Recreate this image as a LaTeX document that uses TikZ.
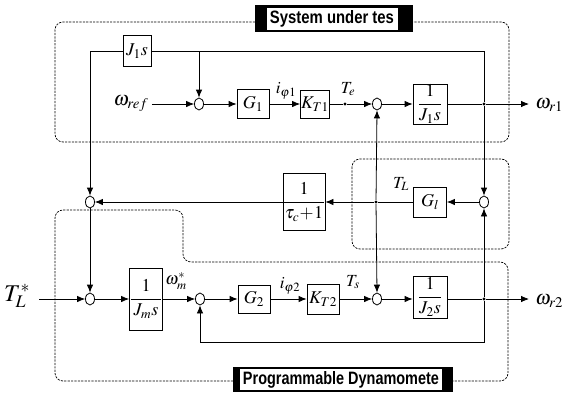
\documentclass[tikz,border=0pt]{standalone}
\usepackage{mathptmx}
\usepackage[no-math]{fontspec}
\newfontfamily\labfont{Liberation Sans}
\usetikzlibrary{arrows.meta,shapes.geometric}
\begin{document}
\begin{tikzpicture}[x=1pt,y=-1pt,
  line width=0.8pt,
  blk/.style={draw, rectangle, inner sep=0pt, font=\fontsize{18}{20}\selectfont},
  sumc/.style={draw, ellipse, minimum width=9pt, minimum height=12pt, inner sep=0pt},
  jdot/.style={circle, fill, inner sep=0pt, minimum size=3.4pt},
  arr/.style={-{Latex[length=8pt,width=6.5pt]}},
  dbox/.style={line width=0.7pt, dash pattern=on 2.2pt off 1.2pt, rounded corners=8pt},
  lbl/.style={inner sep=0pt, font=\fontsize{17}{19}\selectfont},
  big/.style={inner sep=0pt, font=\fontsize{20}{22}\selectfont},
  labtxt/.style={inner sep=0pt, font=\labfont\bfseries},
]
\useasboundingbox (0,0) rectangle (565,394);

% ---------- dashed group outlines ----------
\draw[dbox] (255,22) -- (55,22) -- (55,142) -- (509,142) -- (509,22) -- (413,22);
\draw[dbox] (352,159) rectangle (509,249);
\draw[dbox] (233,381) -- (55,381) -- (55,210) -- (183,210) -- (183,262) -- (508,262) -- (508,381) -- (453,381);

% ---------- group titles ----------
\fill (255,5) rectangle (413,32);
\fill[white] (267,7.5) rectangle (398,29.5);
\node[labtxt] (lab1) at (332,18.5) {\resizebox{124pt}{13pt}{System under tes}};
\fill (233,367) rectangle (453,392);
\node[fill=white, minimum width=202pt, minimum height=21pt, inner sep=0pt] (lab2bg) at (341,379.5) {};
\node[labtxt] (lab2) at (341,379.5) {\resizebox{196pt}{13pt}{Programmable Dynamomete}};

% ---------- row 1 ----------
\node[blk, minimum width=28pt, minimum height=31pt] (J1s) at (137,51) {$J_1 s$};
\node[big] (wref) at (131,104) {$\omega_{ref}$};
\node[sumc] (s1) at (199,104) {};
\node[blk, minimum width=32pt, minimum height=29pt] (G1) at (253,104) {$G_1$};
\node[blk, minimum width=29pt, minimum height=28pt] (KT1) at (315,104) {$K_{T1}$};
\node[jdot] (Te) at (345,104) {};
\node[lbl] (Telab) at (348,89) {$T_e$};
\node[lbl] (iq1) at (286,91) {$i_{\varphi 1}$};
\node[sumc] (s2) at (377,104) {};
\node[blk, minimum width=34pt, minimum height=40pt] (P1) at (430,104) {$\displaystyle\frac{1}{J_1 s}$};
\node[jdot] (j1) at (484,104) {};
\coordinate (w1e) at (529,104);
\node[big, anchor=west] (w1) at (535,105) {$\omega_{r1}$};

\coordinate (tl) at (90,51);
\coordinate (tr) at (484,51);
\coordinate (b1) at (199,51);

\draw[arr] (wref.east) ++(3,0) -- (s1.west);
\draw[arr] (s1.east) -- (G1.west);
\draw[arr] (G1.east) -- (KT1.west);
\draw (KT1.east) -- (Te);
\draw[arr] (Te) -- (s2.west);
\draw[arr] (s2.east) -- (P1.west);
\draw (P1.east) -- (j1);
\draw[arr] (j1) -- (w1e);
\draw (j1) -- (tr) -- (J1s.east);
\draw[arr] (b1) -- (s1.north);

% ---------- middle row ----------
\node[sumc] (sm) at (484,202) {};
\node[blk, minimum width=33pt, minimum height=30pt] (Gl) at (430,202) {$G_l$};
\node[jdot] (jT) at (376,202) {};
\node[lbl] (TLlab) at (401,184) {$T_L$};
\node[blk, minimum width=42pt, minimum height=57pt] (tau) at (304,202)
  {$\displaystyle\frac{\makebox[39.6pt]{$1$}}{\tau_c\!+\!1}$};
\node[sumc] (s3) at (90,202) {};

\draw[arr] (j1) -- (sm.north);
\draw[arr] (sm.west) -- (Gl.east);
\draw (Gl.west) -- (jT);
\draw[arr] (jT) -- (tau.east);
\draw[arr] (tau.west) -- (s3.east);
\draw[arr] (J1s.west) -- (tl) -- (s3.north);
\draw[arr] (jT) -- (s2.south);

% ---------- row 2 ----------
\node[inner sep=0pt, font=\fontsize{24}{26}\selectfont] (TLs) at (17,296) {$T_L^{*}$};
\node[sumc] (s4) at (90,299) {};
\node[blk, minimum width=33pt, minimum height=62pt] (Jm) at (146,299)
  {$\displaystyle\frac{\makebox[30.6pt]{$1$}}{J_m s}$};
\node[lbl, anchor=west] (wm) at (165,281) {$\omega_m^{*}$};
\node[sumc] (s5) at (200,299) {};
\node[blk, minimum width=32pt, minimum height=28pt] (G2) at (254,299) {$G_2$};
\node[blk, minimum width=32pt, minimum height=30pt] (KT2) at (323,299) {$K_{T2}$};
\node[lbl] (iq2) at (290,286) {$i_{\varphi 2}$};
\node[sumc] (s6) at (377,299) {};
\node[lbl] (Tslab) at (353,282) {$T_s$};
\node[blk, minimum width=34pt, minimum height=42pt] (P2) at (430,297) {$\displaystyle\frac{1}{J_2 s}$};
\node[jdot] (j2) at (484,299) {};
\coordinate (w2e) at (529,299);
\node[big, anchor=west] (w2) at (535,301) {$\omega_{r2}$};
\coordinate (fb1) at (484,342);
\coordinate (fb2) at (200,342);
\coordinate (tin) at (39,299);

\draw[arr] (s3.south) -- (s4.north);
\draw[arr] (tin) -- (s4.west);
\draw[arr] (s4.east) -- (Jm.west |- s4);
\draw[arr] (Jm.east |- s5) -- (s5.west);
\draw[arr] (s5.east) -- (G2.west);
\draw[arr] (G2.east) -- (KT2.west);
\draw[arr] (KT2.east) -- (s6.west);
\draw[arr] (jT) -- (s6.north);
\draw[arr] (s6.east) -- (P2.west |- s6);
\draw (P2.east |- j2) -- (j2);
\draw[arr] (j2) -- (w2e);
\draw[arr] (j2) -- (sm.south);
\draw[arr] (j2) -- (fb1) -- (fb2) -- (s5.south);
\end{tikzpicture}
\end{document}
